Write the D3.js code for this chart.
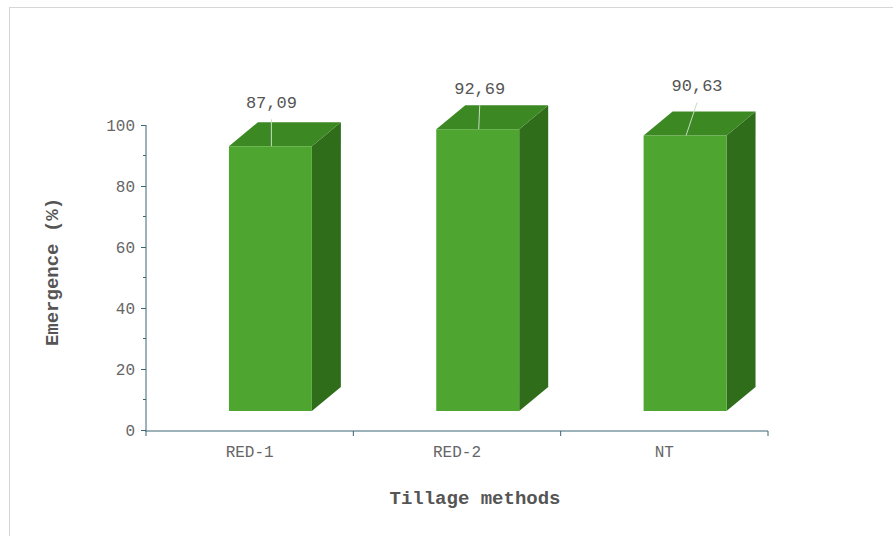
<!DOCTYPE html>
<html>
<head>
<meta charset="utf-8">
<script src="https://cdn.jsdelivr.net/npm/d3@7"></script>
<style>
  body { margin: 0; background: #fff; }
  .axis text { font-family: "Courier New", "Liberation Mono", monospace; font-size: 16px; fill: #666; }
  .axis path, .axis line { stroke: #3d6472; }
  .title { font-family: "Courier New", "Liberation Mono", monospace; font-size: 19px; font-weight: bold; fill: #555; }
  .val { font-family: "Courier New", "Liberation Mono", monospace; font-size: 17px; fill: #555; }
</style>
</head>
<body>
<div class="container"></div>
<script>
const WIDTH = 893;
const HEIGHT = 536;

var categories = ['RED-1', 'RED-2', 'NT'];
var emergence = [87.09, 92.69, 90.63];
var yTicks = [0, 20, 40, 60, 80, 100];
var yMinor = [10, 30, 50, 70, 90];

// label nudges [dx, dy] so the callouts sit like the original
var labelNudge = [[1, 38], [2, 35], [12, 44]];

var DEPTH_X = 29, DEPTH_Y = 24;

var xScale = d3.scaleBand()
    .domain(categories)
    .range([146, 768]);

var yScale = d3.scaleLinear()
    .domain([0, 100])
    .range([430, 125]);

// front face of the 3d columns sits lower than the axis plane
var yFront = d3.scaleLinear()
    .domain([0, 100])
    .range([411, 107]);

var data = categories.map(function (c, i) {
    return {cat: c, value: emergence[i], nudge: labelNudge[i]};
});

var svg = d3.select('.container').append('svg')
    .attr('width', WIDTH)
    .attr('height', HEIGHT);

// outer frame
svg.append('rect')
    .attr('x', 9.5).attr('y', 7.5)
    .attr('width', WIDTH + 10).attr('height', HEIGHT + 10)
    .attr('fill', 'none')
    .attr('stroke', '#d6d6d6');

var yAxis = d3.axisLeft(yScale).tickValues(yTicks).tickSize(5).tickPadding(6);
svg.append('g')
    .attr('class', 'axis')
    .attr('transform', 'translate(146,0)')
    .call(yAxis)
    .call(function (g) { g.select('.domain').attr('d', 'M0,125V431'); });

svg.append('g').selectAll('line').data(yMinor)
    .enter().append('line')
    .attr('x1', 143).attr('x2', 146)
    .attr('y1', function (d) { return yScale(d); })
    .attr('y2', function (d) { return yScale(d); })
    .attr('stroke', '#3d6472');

var xAxis = d3.axisBottom(xScale).tickSize(0).tickPadding(15);
var gx = svg.append('g')
    .attr('class', 'axis')
    .attr('transform', 'translate(0,431)')
    .call(xAxis);
gx.select('.domain').attr('d', 'M145,0H768');
gx.selectAll('.tick line').remove();

var bounds = categories.map(function (c) { return xScale(c); }).concat([xScale.range()[1]]);
gx.selectAll('.sep').data(bounds)
    .enter().append('line')
    .attr('class', 'sep')
    .attr('x1', function (d) { return d; })
    .attr('x2', function (d) { return d; })
    .attr('y1', 0).attr('y2', 5)
    .attr('stroke', '#3d6472');

var bw = xScale.bandwidth();
var fx0 = function (d) { return xScale(d.cat) + bw * 0.4; };
var fx1 = function (d) { return xScale(d.cat) + bw * 0.8; };
var base = yFront(0);

var bars = svg.append('g').selectAll('g').data(data).enter().append('g');

// side
bars.append('path')
    .attr('fill', '#2f6d1b')
    .attr('d', function (d) {
        var x = fx1(d), t = yFront(d.value);
        return 'M' + x + ',' + t + 'L' + (x + DEPTH_X) + ',' + (t - DEPTH_Y) +
            'L' + (x + DEPTH_X) + ',' + (base - DEPTH_Y) + 'L' + x + ',' + base + 'Z';
    });

// top
bars.append('path')
    .attr('fill', '#3c8924')
    .attr('d', function (d) {
        var a = fx0(d), b = fx1(d), t = yFront(d.value);
        return 'M' + a + ',' + t + 'L' + (a + DEPTH_X) + ',' + (t - DEPTH_Y) +
            'L' + (b + DEPTH_X) + ',' + (t - DEPTH_Y) + 'L' + b + ',' + t + 'Z';
    });

// front
bars.append('rect')
    .attr('fill', '#4ea52f')
    .attr('x', fx0)
    .attr('y', function (d) { return yFront(d.value); })
    .attr('width', bw * 0.4)
    .attr('height', function (d) { return base - yFront(d.value); });

// callout lines and values
var cx = function (d) { return (fx0(d) + fx1(d)) / 2; };
bars.append('line')
    .attr('x1', function (d) { return cx(d) + d.nudge[0]; })
    .attr('y1', function (d) { return yFront(d.value) - d.nudge[1] + 11; })
    .attr('x2', function (d) { return cx(d) + 1; })
    .attr('y2', function (d) { return yFront(d.value); })
    .attr('stroke', '#c8dcc0')
    .attr('stroke-width', 1);

bars.append('text')
    .attr('class', 'val')
    .attr('text-anchor', 'middle')
    .attr('x', function (d) { return cx(d) + d.nudge[0]; })
    .attr('y', function (d) { return yFront(d.value) - d.nudge[1]; })
    .text(function (d) { return d.value.toFixed(2).replace('.', ','); });

svg.append('text')
    .attr('class', 'title')
    .attr('text-anchor', 'middle')
    .attr('x', 475).attr('y', 504)
    .text('Tillage methods');

svg.append('text')
    .attr('class', 'title')
    .attr('text-anchor', 'middle')
    .attr('transform', 'translate(58,272) rotate(-90)')
    .text('Emergence (%)');
</script>
</body>
</html>
